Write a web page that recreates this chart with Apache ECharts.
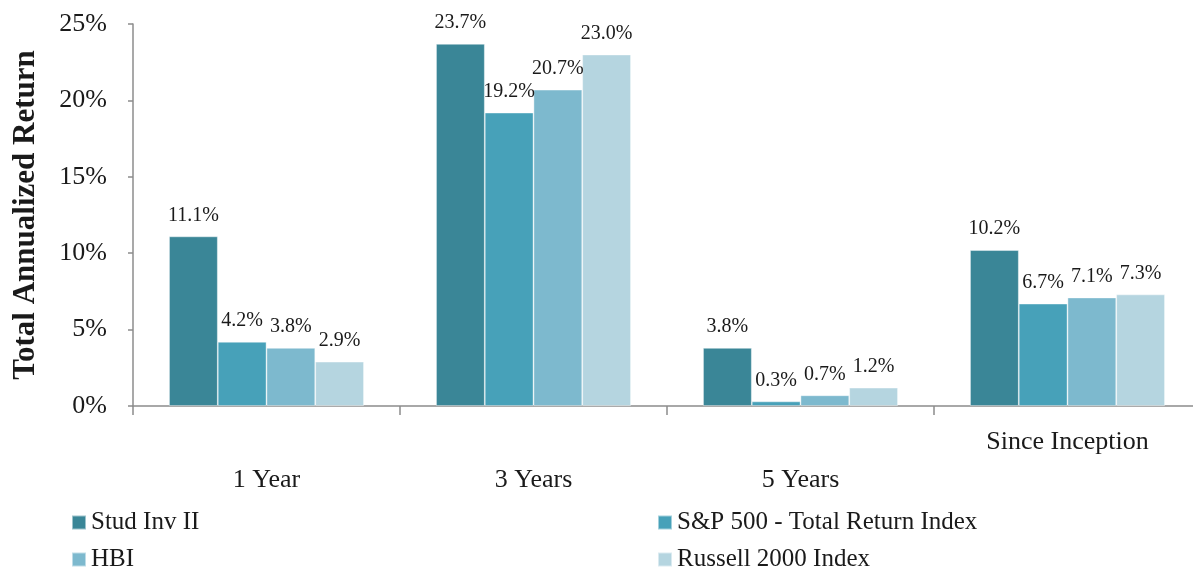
<!DOCTYPE html>
<html>
<head>
<meta charset="utf-8">
<script src="https://cdn.jsdelivr.net/npm/echarts@6/dist/echarts.min.js"></script>
<style>
html,body{margin:0;padding:0;background:#fff;overflow:hidden;}
#chart{width:1201px;height:569px;}
</style>
</head>
<body>
<div id="chart"></div>
<script>
const categories = ['1 Year', '3 Years', '5 Years', 'Since Inception'];
const seriesNames = ['Stud Inv II', 'S&P 500 - Total Return Index', 'HBI', 'Russell 2000 Index'];
const studInv = [11.1, 23.7, 3.8, 10.2];
const sp500 = [4.2, 19.2, 0.3, 6.7];
const hbi = [3.8, 20.7, 0.7, 7.1];
const russell = [2.9, 23.0, 1.2, 7.3];
const yTicks = [0, 5, 10, 15, 20, 25];
const colors = ['#3a8697', '#47a1b9', '#7db9ce', '#b5d5e0'];

const FONT = '"Liberation Serif", "DejaVu Serif", serif';
const values = [studInv, sp500, hbi, russell];

const chart = echarts.init(document.getElementById('chart'));
chart.setOption({
  animation: false,
  backgroundColor: '#ffffff',
  textStyle: { fontFamily: FONT, color: '#1a1a1a' },
  grid: { left: 133, top: 24, bottom: 163, right: 0 },
  legend: [
    {
      data: [seriesNames[0], seriesNames[2]],
      orient: 'vertical', left: 66, top: 505, height: 120,
      itemWidth: 14, itemHeight: 14, itemGap: 12, icon: 'rect',
      textStyle: { fontFamily: FONT, fontSize: 25, color: '#1a1a1a' }
    },
    {
      data: [seriesNames[1], seriesNames[3]],
      orient: 'vertical', left: 652, top: 505, height: 120,
      itemWidth: 14, itemHeight: 14, itemGap: 12, icon: 'rect',
      textStyle: { fontFamily: FONT, fontSize: 25, color: '#1a1a1a' }
    }
  ],
  xAxis: {
    type: 'category',
    data: categories,
    axisLine: { lineStyle: { color: '#8c8c8c', width: 1.5 } },
    axisTick: { show: true, length: 9, lineStyle: { color: '#8c8c8c', width: 1.5 } },
    axisLabel: {
      margin: 17,
      fontFamily: FONT, fontSize: 26, color: '#1a1a1a',
      lineHeight: 38,
      formatter: function (v) { return v === 'Since Inception' ? v : '\n' + v; }
    }
  },
  yAxis: {
    type: 'value',
    min: yTicks[0], max: yTicks[yTicks.length - 1], interval: yTicks[1] - yTicks[0],
    name: 'Total Annualized Return',
    nameLocation: 'middle',
    nameGap: 92,
    nameRotate: 90,
    nameTextStyle: { fontFamily: FONT, fontSize: 31, fontWeight: 'bold', color: '#1a1a1a' },
    splitLine: { show: false },
    axisLine: { show: true, lineStyle: { color: '#8c8c8c', width: 1.5 } },
    axisTick: { show: true, length: 5, lineStyle: { color: '#8c8c8c', width: 1.5 } },
    axisLabel: {
      margin: 26,
      fontFamily: FONT, fontSize: 26, color: '#1a1a1a',
      formatter: '{value}%'
    }
  },
  series: seriesNames.map(function (name, i) {
    return {
      name: name,
      type: 'bar',
      data: values[i],
      barGap: '0%',
      barCategoryGap: '27%',
      itemStyle: { color: colors[i], borderColor: 'rgba(255,255,255,0.5)', borderWidth: 0.8 },
      label: {
        show: true, position: 'top', distance: 11,
        fontFamily: FONT, fontSize: 20, color: '#1a1a1a',
        formatter: function (p) { return p.value.toFixed(1) + '%'; }
      }
    };
  })
});
</script>
</body>
</html>
